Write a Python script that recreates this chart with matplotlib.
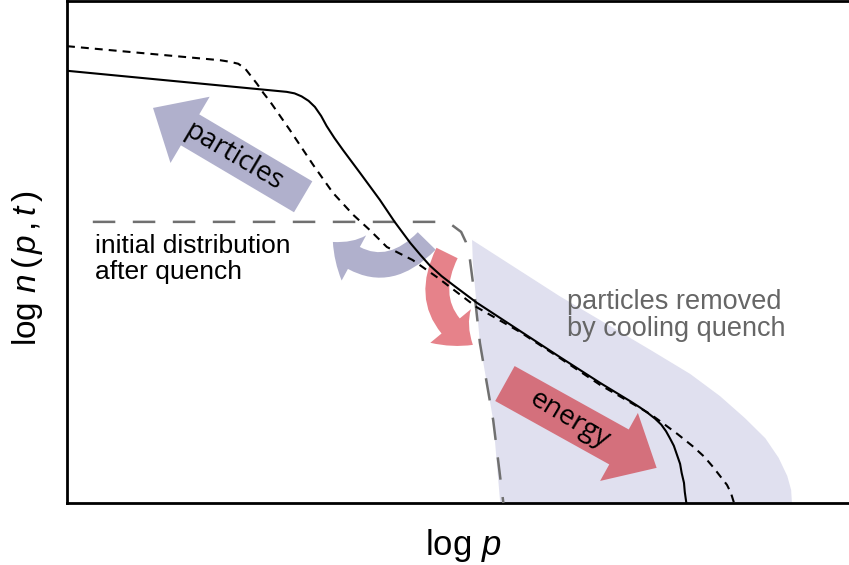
import matplotlib
matplotlib.use("Agg")
import matplotlib.pyplot as plt
from matplotlib.patches import FancyArrowPatch, Polygon

plt.rcParams['font.family'] = ['Liberation Sans', 'DejaVu Sans']
plt.rcParams['mathtext.fontset'] = 'custom'
plt.rcParams['mathtext.rm'] = 'Liberation Sans'
plt.rcParams['mathtext.it'] = 'Liberation Sans:italic'

# ---- data (log p, log n) in schematic units ----
solid_x = [0.00, 2.81, 2.91, 3.00, 3.09, 3.17, 3.25, 3.32, 3.42, 3.53, 3.75, 4.00,
           4.19, 4.39, 4.52, 4.64, 4.79, 4.94, 5.24, 5.79, 6.30, 6.82, 7.20, 7.33, 7.43,
           7.52, 7.60, 7.66, 7.71, 7.76, 7.80, 7.84, 7.86, 7.89, 7.90, 7.92]
solid_y = [8.61, 8.19, 8.16, 8.10, 8.01, 7.89, 7.71, 7.51, 7.27, 7.03, 6.57, 6.04,
           5.60, 5.18, 4.94, 4.73, 4.52, 4.34, 3.99, 3.43, 2.91, 2.39, 2.03, 1.90, 1.79,
           1.68, 1.56, 1.43, 1.29, 1.14, 0.96, 0.78, 0.60, 0.40, 0.22, 0.00]

dashed_x = [0.00, 1.96, 2.08, 2.19, 2.28, 2.35, 2.43, 2.51, 2.60, 2.85, 3.15, 3.40,
            3.66, 3.87, 4.09, 4.42, 4.73, 5.24, 5.79, 6.30, 6.82, 7.33, 7.46, 7.62,
            7.81, 8.01, 8.15, 8.26, 8.36, 8.44, 8.49, 8.53]
dashed_y = [9.10, 8.82, 8.79, 8.75, 8.65, 8.51, 8.35, 8.17, 7.99, 7.43, 6.73, 6.18,
            5.74, 5.44, 5.10, 4.84, 4.50, 3.90, 3.41, 2.89, 2.35, 1.89, 1.77, 1.59,
            1.37, 1.12, 0.92, 0.72, 0.52, 0.36, 0.20, 0.00]

initial_x = [0.33, 4.77, 4.92, 5.04, 5.10, 5.15, 5.22, 5.28, 5.35, 5.45, 5.58]
initial_y = [5.60, 5.60, 5.54, 5.40, 5.20, 4.88, 4.04, 3.19, 2.55, 1.65, 0.00]

removed_x = [5.18, 6.30, 7.46, 7.97, 8.35, 8.67, 8.93, 9.10, 9.21, 9.26, 9.27,
             5.54, 5.45, 5.28, 5.19]
removed_y = [5.24, 4.12, 3.05, 2.57, 2.13, 1.69, 1.29, 0.90, 0.54, 0.26, 0.00,
             0.00, 1.65, 3.19, 4.78]

# arrows: (tail, tip)
particles_arrow = [(3.02, 6.10), (1.10, 7.87)]
energy_arrow = [(5.60, 2.38), (7.54, 0.70)]
back_arrow = [(4.60, 5.22), (3.40, 5.20)]
down_arrow = [(4.86, 4.98), (5.19, 3.15)]

labels_text = ["particles", "energy"]

fig = plt.figure(figsize=(8.49, 5.65), dpi=100)
ax = fig.add_axes([67/849, 62/565, 782/849, 502/565])
ax.set_xlim(0, 10)
ax.set_ylim(0, 10)
ax.set_xticks([])
ax.set_yticks([])
for s in ['left', 'top', 'bottom']:
    ax.spines[s].set_linewidth(2.0)
    ax.spines[s].set_color('black')
ax.spines['right'].set_visible(False)

# shaded removed region
ax.add_patch(Polygon(list(zip(removed_x, removed_y)), closed=True,
                     facecolor='#e0e0ef', edgecolor='none', zorder=1))

lav = '#b0b0cc'
red1 = '#d4707c'
red2 = '#e6828a'

def arrow(pts, tw, hw, hl, color, rad=0.0):
    p = FancyArrowPatch(pts[0], pts[1],
                        arrowstyle=f"simple,head_length={hl},head_width={hw},tail_width={tw}",
                        connectionstyle=f"arc3,rad={rad}", mutation_scale=1,
                        shrinkA=0, shrinkB=0, facecolor=color, edgecolor='none', zorder=2)
    ax.add_patch(p)

arrow(particles_arrow, 25.9, 55.4, 31, lav)
arrow(energy_arrow, 28.8, 56, 31, red1)
arrow(back_arrow, 18, 37, 19, lav, rad=-0.5)
arrow(down_arrow, 17, 38, 21, red2, rad=0.45)

ax.text(2.14, 6.90, labels_text[0], rotation=-30.7, ha='center', va='center',
        fontsize=20, family=['Open Sans', 'DejaVu Sans'], zorder=4,
        rotation_mode='anchor')
ax.text(6.43, 1.66, labels_text[1], rotation=-31, ha='center', va='center',
        fontsize=20, family=['Open Sans', 'DejaVu Sans'], zorder=4,
        rotation_mode='anchor')

# lines
ax.plot(initial_x, initial_y, color='#707070', lw=1.8, dashes=(9, 7), zorder=3,
        solid_capstyle='butt')
ax.plot(solid_x, solid_y, color='black', lw=1.5, zorder=3)
ax.plot(dashed_x, dashed_y, color='black', lw=1.5, dashes=(3.8, 2.9), zorder=3)

ax.text(0.36, 5.36, "initial distribution\nafter quench", ha='left', va='top',
        fontsize=19, linespacing=1.1, color='black', zorder=4)
ax.text(6.39, 4.26, "particles removed\nby cooling quench", ha='left', va='top',
        fontsize=19.5, linespacing=1.05, color='#666666', zorder=4)

ax.text(-0.050, 0.468, r'log $n\,(\,p\,,t\,)$', rotation=90, ha='center', va='center',
        fontsize=24, transform=ax.transAxes)
ax.text(0.506, -0.084, r'log $p$', ha='center', va='center',
        fontsize=25, transform=ax.transAxes)

fig.savefig('out.png', dpi=100)
